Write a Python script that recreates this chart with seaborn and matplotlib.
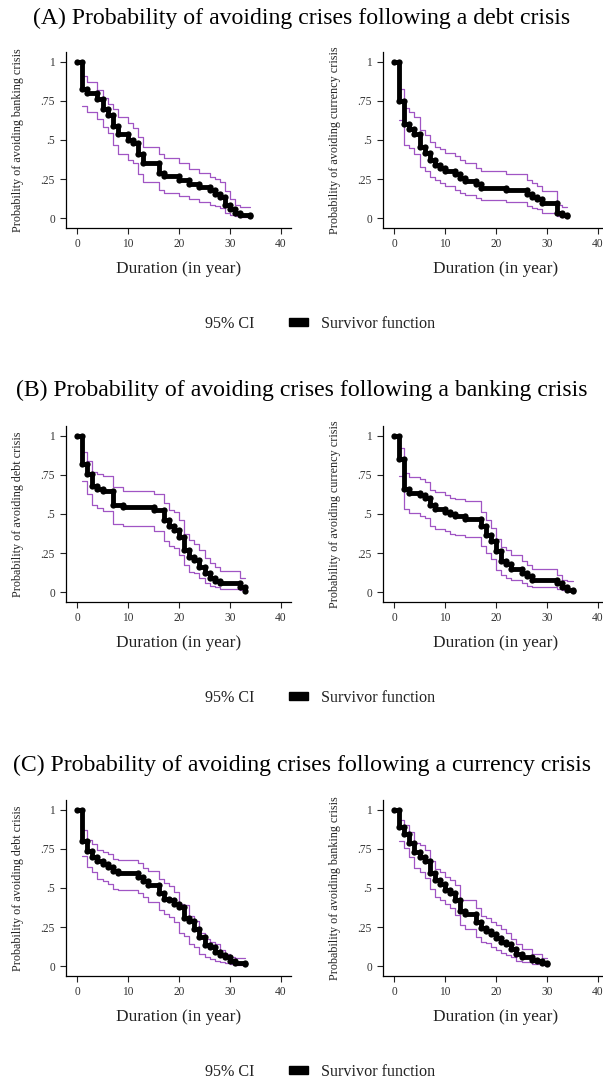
import numpy as np
import pandas as pd
import matplotlib
matplotlib.use("Agg")
import matplotlib.pyplot as plt
from matplotlib.patches import Rectangle
import seaborn as sns

sns.set_theme(style="ticks")
plt.rcParams['font.family'] = ['Liberation Serif', 'DejaVu Serif']

nan = np.nan

# ---------- Data ----------
# (A) after a debt crisis -> banking crisis
A1_t = [0, 1, 2, 4, 5, 6, 7, 8, 10, 11, 12, 13, 16, 17, 20, 22, 24, 26, 27, 28, 29, 30, 31, 32, 34]
A1_s = [1, .83, .80, .76, .70, .66, .59, .54, .50, .48, .41, .35, .29, .27, .245, .22, .20, .18, .155, .135, .085, .055, .035, .02, .01]
A1_hi = [nan, .91, .87, .82, .77, .73, .70, .65, .61, .58, .52, .455, .41, .385, .35, .315, .29, .265, .25, .23, .17, .12, .085, .07, .07]
A1_lo = [nan, .72, .68, .635, .585, .545, .47, .41, .37, .35, .285, .23, .18, .16, .14, .12, .105, .085, .075, .065, .035, .02, .01, .005, .002]

# (A) after a debt crisis -> currency crisis
A2_t = [0, 1, 2, 3, 4, 5, 6, 7, 8, 9, 10, 12, 13, 14, 16, 17, 22, 26, 27, 28, 29, 32, 33, 34]
A2_s = [1, .75, .60, .57, .54, .455, .415, .375, .34, .32, .30, .28, .255, .235, .215, .195, .18, .155, .135, .12, .095, .03, .02, .01]
A2_hi = [nan, .83, .705, .68, .65, .565, .535, .49, .455, .44, .415, .395, .37, .35, .32, .30, .28, .245, .225, .205, .17, .085, .07, .07]
A2_lo = [nan, .625, .47, .45, .41, .33, .30, .265, .245, .225, .205, .18, .16, .145, .13, .115, .10, .08, .065, .055, .035, .01, .005, .002]

# (B) after a banking crisis -> debt crisis
B1_t = [0, 1, 2, 3, 4, 5, 7, 9, 15, 17, 18, 19, 20, 21, 22, 23, 24, 25, 26, 27, 28, 32, 33]
B1_s = [1, .82, .755, .68, .66, .645, .56, .545, .525, .46, .42, .40, .355, .27, .225, .205, .16, .12, .09, .07, .055, .035, .005]
B1_hi = [nan, .895, .84, .77, .755, .745, .67, .65, .625, .57, .525, .51, .46, .375, .335, .31, .27, .22, .185, .16, .135, .09, .09]
B1_lo = [nan, .71, .625, .56, .54, .52, .435, .42, .39, .325, .295, .28, .24, .175, .13, .12, .09, .055, .04, .03, .02, .01, .005]

# (B) after a banking crisis -> currency crisis
B2_t = [0, 1, 2, 3, 5, 6, 7, 8, 10, 11, 12, 14, 17, 18, 19, 20, 21, 22, 23, 25, 26, 27, 32, 33, 34, 35]
B2_s = [1, .855, .66, .635, .62, .605, .555, .53, .515, .50, .485, .47, .42, .365, .33, .26, .20, .18, .15, .12, .10, .075, .055, .03, .015, .005]
B2_hi = [nan, .92, .76, .74, .725, .705, .655, .64, .62, .605, .595, .585, .515, .46, .41, .34, .29, .27, .24, .20, .175, .15, .11, .075, .07, .07]
B2_lo = [nan, .745, .535, .505, .49, .475, .42, .405, .39, .375, .365, .35, .295, .25, .21, .14, .11, .09, .075, .055, .04, .03, .02, .01, .005, .003]

# (C) after a currency crisis -> debt crisis
C1_t = [0, 1, 2, 3, 4, 5, 6, 7, 8, 12, 13, 14, 16, 17, 18, 19, 20, 21, 22, 23, 24, 25, 26, 27, 28, 29, 30, 31, 33]
C1_s = [1, .80, .74, .70, .67, .655, .635, .61, .595, .57, .545, .52, .465, .43, .42, .40, .38, .305, .29, .235, .185, .135, .12, .09, .07, .055, .03, .02, .01]
C1_hi = [nan, .87, .81, .78, .745, .73, .715, .685, .68, .66, .63, .61, .555, .53, .51, .475, .40, .39, .32, .29, .21, .175, .155, .14, .105, .075, .055, .05, .05]
C1_lo = [nan, .705, .635, .60, .56, .545, .525, .495, .485, .465, .445, .41, .36, .335, .315, .285, .21, .195, .14, .12, .08, .06, .045, .035, .025, .02, .01, .005, .003]

# (C) after a currency crisis -> banking crisis
C2_t = [0, 1, 2, 3, 4, 5, 6, 7, 8, 9, 10, 11, 12, 13, 14, 16, 17, 18, 19, 20, 21, 22, 23, 24, 25, 27, 28, 29, 30]
C2_s = [1, .89, .845, .79, .73, .70, .67, .595, .55, .525, .49, .465, .42, .355, .335, .285, .245, .225, .205, .18, .155, .14, .11, .08, .06, .04, .03, .02, .01]
C2_hi = [nan, .935, .905, .86, .79, .775, .745, .67, .62, .605, .57, .55, .52, .425, .42, .375, .32, .305, .285, .26, .235, .21, .175, .14, .11, .08, .075, .05, .05]
C2_lo = [nan, .80, .755, .70, .625, .605, .565, .495, .445, .425, .40, .375, .325, .26, .24, .185, .155, .145, .125, .105, .085, .07, .055, .03, .025, .015, .01, .005, .003]

row_titles = ["(A) Probability of avoiding crises following a debt crisis",
              "(B) Probability of avoiding crises following a banking crisis",
              "(C) Probability of avoiding crises following a currency crisis"]
ylabels = [["Probability of avoiding banking crisis", "Probability of avoiding currency crisis"],
           ["Probability of avoiding debt crisis", "Probability of avoiding currency crisis"],
           ["Probability of avoiding debt crisis", "Probability of avoiding banking crisis"]]
panels = [[(A1_t, A1_s, A1_lo, A1_hi), (A2_t, A2_s, A2_lo, A2_hi)],
          [(B1_t, B1_s, B1_lo, B1_hi), (B2_t, B2_s, B2_lo, B2_hi)],
          [(C1_t, C1_s, C1_lo, C1_hi), (C2_t, C2_s, C2_lo, C2_hi)]]
xlabel = "Duration (in year)"
yticks = [0, .25, .5, .75, 1]
yticklabels = ["0", ".25", ".5", ".75", "1"]
xticks = [0, 10, 20, 30, 40]
legend_labels = ["95% CI", "Survivor function"]

CI_COLOR = "#a055c4"
TXT = "#222222"


def step_vertices(t, s):
    xs, ys = [t[0]], [s[0]]
    for i in range(1, len(t)):
        xs += [t[i], t[i]]
        ys += [s[i - 1], s[i]]
    return xs, ys


W, H = 603, 1083
fig = plt.figure(figsize=(W / 100, H / 100), dpi=100)

row_bottom_px = [228, 602, 976]
row_title_y = [18, 390, 765]
legend_y = [324, 698, 1072]
col_left_px = [66, 383]
ax_w_px, ax_h_px = 225, 176

for r in range(3):
    for c in range(2):
        ax = fig.add_axes([col_left_px[c] / W, 1 - row_bottom_px[r] / H,
                           ax_w_px / W, ax_h_px / H])
        t, s, lo, hi = panels[r][c]
        xs, ys = step_vertices(t, s)
        df = pd.DataFrame({"t": t, "lo": lo, "hi": hi}).dropna()
        sns.lineplot(x=df["t"].values, y=df["hi"].values, ax=ax, color=CI_COLOR,
                     lw=0.9, drawstyle="steps-post", sort=False, estimator=None)
        sns.lineplot(x=df["t"].values, y=df["lo"].values, ax=ax, color=CI_COLOR,
                     lw=0.9, drawstyle="steps-post", sort=False, estimator=None)
        sns.lineplot(x=xs, y=ys, ax=ax, color="black", lw=3.5, marker="o",
                     markersize=4.5, markeredgewidth=0, sort=False, estimator=None)
        ax.set_xlim(-2.16, 41.96)
        ax.set_ylim(-0.064, 1.064)
        ax.set_xticks(xticks)
        ax.set_xticklabels([str(v) for v in xticks], fontsize=8.3, color="#333333")
        ax.set_yticks(yticks)
        ax.set_yticklabels(yticklabels, fontsize=8.3, color="#333333")
        ax.tick_params(axis="both", direction="out", length=4, width=0.8,
                       color="#222222", pad=3)
        ax.tick_params(axis="y", pad=4)
        ax.set_xlabel(xlabel, fontsize=12.4, color=TXT, labelpad=8)
        ax.set_ylabel(ylabels[r][c], fontsize=8.7, color=TXT, labelpad=12)
        sns.despine(ax=ax)
        for sp in ["left", "bottom"]:
            ax.spines[sp].set_linewidth(0.9)
            ax.spines[sp].set_color("black")
        ax.set_facecolor("white")

    fig.text(302 / W, 1 - row_title_y[r] / H, row_titles[r], ha="center",
             va="center", fontsize=17.1, color="black")
    handles = [Rectangle((0, 0), 1, 1, facecolor="none", edgecolor="none"),
               Rectangle((0, 0), 1, 1, facecolor="black", edgecolor="black")]
    fig.legend(handles, legend_labels, loc="center",
               bbox_to_anchor=(304 / W, 1 - legend_y[r] / H), ncol=2,
               frameon=False, fontsize=11.6, handlelength=1.15, handleheight=0.4,
               handletextpad=0.8, columnspacing=2.2, labelcolor=TXT)

fig.savefig("out.png", dpi=100, facecolor="white")
